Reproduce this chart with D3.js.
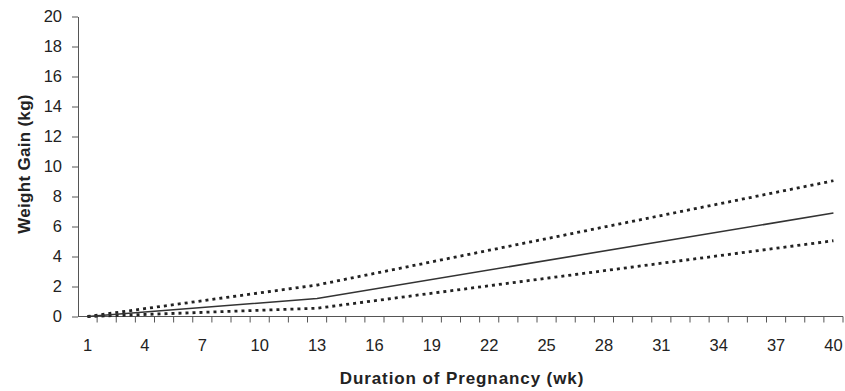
<!DOCTYPE html>
<html>
<head>
<meta charset="utf-8">
<script src="https://cdn.jsdelivr.net/npm/d3@7"></script>
<style>
  body { margin: 0; background: #fff; }
  svg { display: block; font-family: "Liberation Sans", Arial, sans-serif; }
</style>
</head>
<body>
<svg id="chart" width="845" height="391"></svg>
<script>
// weeks on the category axis
var weeks = [1, 2, 3, 4, 5, 6, 7, 8, 9, 10, 11, 12, 13, 14, 15, 16, 17, 18, 19, 20,
             21, 22, 23, 24, 25, 26, 27, 28, 29, 30, 31, 32, 33, 34, 35, 36, 37, 38, 39, 40];
var weekLabels = [1, 4, 7, 10, 13, 16, 19, 22, 25, 28, 31, 34, 37, 40];
var gainTicks = [0, 2, 4, 6, 8, 10, 12, 14, 16, 18, 20];

// the lines bend at week 13
var keyWeeks = [1, 13, 40];
var meanGain = [0, 1.2, 6.9];
var upperGain = [0, 2.1, 9.05];
var lowerGain = [0, 0.55, 5.05];

var margin = { top: 16.5, left: 78, right: 2, bottom: 74.5 };
var width = 845, height = 391;

var svg = d3.select("#chart");

var x = d3.scaleBand()
  .domain(weeks)
  .range([margin.left, width - margin.right])
  .padding(0);

var y = d3.scaleLinear()
  .domain([0, 20])
  .range([height - margin.bottom, margin.top]);

var xc = function(w) { return x(w) + x.bandwidth() / 2; };

// y axis
var yAxis = svg.append("g")
  .attr("transform", "translate(" + margin.left + ",0)")
  .call(d3.axisLeft(y).tickValues(gainTicks).tickSize(6).tickPadding(10).tickSizeOuter(0));
yAxis.selectAll("text").attr("font-size", 16.5).attr("fill", "#222").attr("font-family", "Liberation Sans, Arial, sans-serif");
yAxis.selectAll("line, path").attr("stroke", "#555");

// x axis: ticks between categories, labels every third week
var xAxisG = svg.append("g")
  .attr("transform", "translate(0," + y(0) + ")");
xAxisG.append("line")
  .attr("x1", margin.left).attr("x2", width - margin.right)
  .attr("stroke", "#555");
xAxisG.selectAll("line.tick")
  .data(weeks)
  .enter().append("line")
  .attr("class", "tick")
  .attr("x1", function(d) { return x(d) + x.bandwidth(); })
  .attr("x2", function(d) { return x(d) + x.bandwidth(); })
  .attr("y1", 0).attr("y2", 6)
  .attr("stroke", "#555");
xAxisG.selectAll("text")
  .data(weekLabels)
  .enter().append("text")
  .attr("x", function(d) { return xc(d); })
  .attr("y", 34)
  .attr("text-anchor", "middle")
  .attr("font-size", 16.5)
  .attr("fill", "#222")
  .text(function(d) { return d; });

// lines
function series(vals) {
  return keyWeeks.map(function(w, i) { return [w, vals[i]]; });
}
var line = d3.line()
  .x(function(d) { return xc(d[0]); })
  .y(function(d) { return y(d[1]); });

svg.append("path")
  .datum(series(upperGain))
  .attr("d", line)
  .attr("fill", "none")
  .attr("stroke", "#222")
  .attr("stroke-width", 2.8)
  .attr("stroke-dasharray", "3,4");

svg.append("path")
  .datum(series(lowerGain))
  .attr("d", line)
  .attr("fill", "none")
  .attr("stroke", "#222")
  .attr("stroke-width", 2.8)
  .attr("stroke-dasharray", "3,4");

svg.append("path")
  .datum(series(meanGain))
  .attr("d", line)
  .attr("fill", "none")
  .attr("stroke", "#333")
  .attr("stroke-width", 1.6);

// axis titles
svg.append("text")
  .attr("transform", "translate(30,164) rotate(-90)")
  .attr("text-anchor", "middle")
  .attr("font-size", 17)
  .attr("font-weight", "bold")
  .attr("letter-spacing", 0.3)
  .attr("fill", "#222")
  .text("Weight Gain (kg)");

svg.append("text")
  .attr("x", 462)
  .attr("y", 383.5)
  .attr("text-anchor", "middle")
  .attr("font-size", 17)
  .attr("font-weight", "bold")
  .attr("letter-spacing", 0.9)
  .attr("fill", "#222")
  .text("Duration of Pregnancy (wk)");
</script>
</body>
</html>
